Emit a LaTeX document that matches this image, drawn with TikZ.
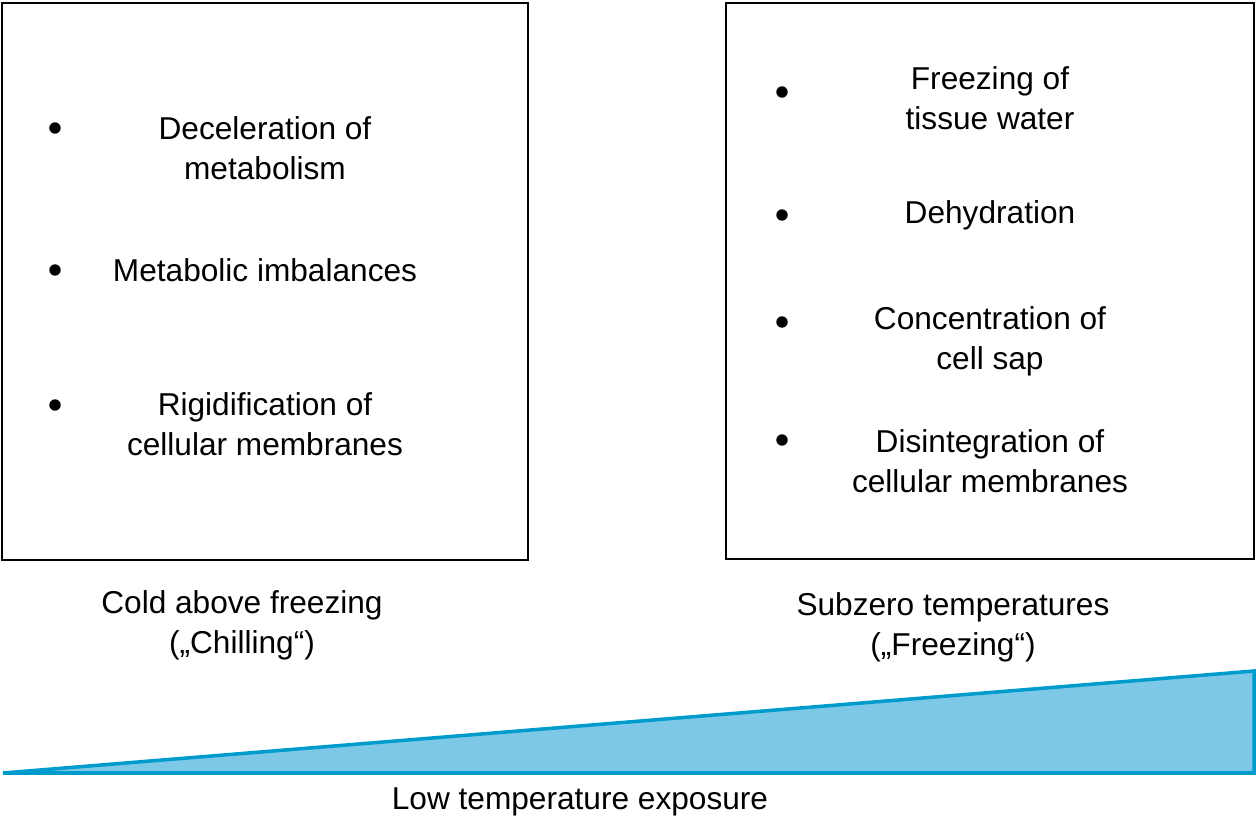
\documentclass[tikz,border=0pt]{standalone}
\usepackage{fontspec}
\setmainfont{Liberation Sans}
\definecolor{triFill}{RGB}{125,200,230}
\definecolor{triLine}{RGB}{0,155,205}
\begin{document}
\begin{tikzpicture}[x=0.02cm,y=-0.02cm,
  txt/.style={font=\fontsize{18}{22.6}\selectfont,align=center,inner sep=0pt},
  bx/.style={draw,line width=1.3pt},
  dot/.style={circle,fill,inner sep=0pt,minimum size=6.5pt}]
\useasboundingbox (0,0) rectangle (1259,821);
\node[bx,minimum width=526*0.02cm,minimum height=557*0.02cm] (L) at (265,281.5) {};
\node[bx,minimum width=528*0.02cm,minimum height=556*0.02cm] (R) at (990,281) {};
\node[dot] (b1) at (55,128) {}; \node[txt] (t1) at (265,148) {Deceleration of\\metabolism};
\node[dot] (b2) at (55,270) {}; \node[txt] (t2) at (265,270) {Metabolic imbalances};
\node[dot] (b3) at (55,405) {}; \node[txt] (t3) at (265,424) {Rigidification of\\cellular membranes};
\node[dot] (c1) at (782,92) {}; \node[txt] (u1) at (990,98) {Freezing of\\tissue water};
\node[dot] (c2) at (782,215) {}; \node[txt] (u2) at (990,215) {Dehydration};
\node[dot] (c3) at (782,322) {}; \node[txt] (u3) at (990,341) {Concentration of\\cell sap};
\node[dot] (c4) at (782,440) {}; \node[txt] (u4) at (990,461) {Disintegration of\\cellular membranes};
\node[txt] (lc) at (242,625) {Cold above freezing\\(„Chilling“)};
\node[txt] (lf) at (953,627) {Subzero temperatures\\(„Freezing“)};
\coordinate (p1) at (3,773); \coordinate (p2) at (1254,671); \coordinate (p3) at (1254,773);
\draw[triLine,fill=triFill,line width=2pt,line join=miter] (p1) -- (p2) -- (p3) -- cycle;
\node[txt] (lx) at (580,802) {Low temperature exposure};
\end{tikzpicture}
\end{document}
